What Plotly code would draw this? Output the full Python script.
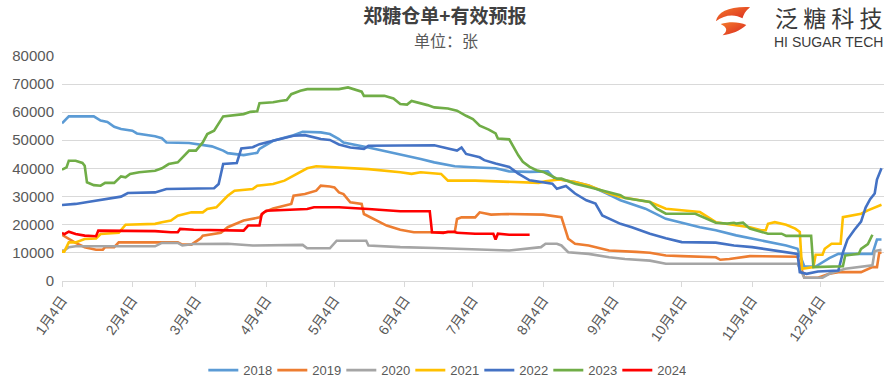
import base64
import pandas as pd
import plotly.graph_objects as go

# ---------------- data (day-of-year, value in 张) ----------------
days_2018 = [4,7,18,21,24,27,30,35,37,45,48,50,60,65,70,75,77,84,90,91,97,106,110,118,122,126,128,139,153,162,168,177,187,195,201,210,218,221,230,236,244,250,261,270,285,292,301,312,323,328,331,336,342,346,361,363,365]
vals_2018 = [56000,58500,58500,57000,56500,54800,54000,53400,52400,51400,50700,49200,49000,48300,47800,46300,45400,44700,45500,46900,49800,51800,53000,52800,52200,50400,49200,47400,45000,43300,42100,40700,40300,40000,38900,38700,38900,36300,35100,33900,31000,28600,25600,22000,19000,17900,16100,14300,12500,11300,5000,5000,8000,9500,9500,14600,14600]

days_2019 = [4,7,10,14,19,22,23,27,29,55,57,61,63,65,66,74,77,84,91,93,97,105,106,111,116,118,122,124,126,128,131,136,137,143,147,153,159,177,178,180,186,188,193,200,216,224,227,230,236,245,250,257,263,270,277,292,294,298,307,328,331,337,342,346,356,361,363,364,365]
vals_2019 = [16300,14800,13400,11900,11000,11000,11900,11900,13600,13600,12800,12800,13900,15000,16000,17000,19000,21400,22500,24300,25700,27300,30200,30800,32000,33800,33500,33200,31400,30800,27900,27300,23700,21400,19600,18100,17200,17200,21900,22500,22500,24300,23500,23700,23500,22600,14900,13100,12500,10700,10600,10200,9900,8900,8700,8300,7400,7700,8700,8500,1000,1000,2400,3000,3000,4800,4800,9900,9900]

days_2020 = [4,5,7,10,45,48,55,57,62,77,88,110,112,122,125,138,139,153,168,182,187,201,215,217,222,224,227,236,245,250,252,263,270,328,331,339,342,349,355,361,362,365]
vals_2020 = [10700,10700,11900,12200,12200,13400,13400,12500,13000,13100,12500,12700,11500,11500,14200,14200,12500,11900,11600,11300,11100,10700,11900,13100,13100,12500,10100,9500,8300,7700,7700,7100,6000,6000,1000,1000,2400,4200,4800,5400,10500,11000]

days_2021 = [4,5,7,10,14,19,21,29,32,45,48,52,55,58,61,66,68,72,74,77,80,88,90,97,102,106,109,112,116,126,139,153,158,162,171,174,186,214,217,223,230,236,245,250,254,263,270,285,292,297,304,307,312,314,315,318,323,327,329,330,335,336,339,340,343,347,348,352,356,359,365]
vals_2021 = [10300,10300,13600,13600,14800,15000,16600,17000,19900,20200,20800,21400,23100,23700,24300,24300,25500,26100,27900,30200,32000,32600,33800,34400,35600,37400,38600,40000,40700,40300,39700,38600,38000,38600,38000,35600,35600,34800,35400,36000,35100,33900,31000,29800,29200,28000,25600,24400,20800,20200,19600,19000,17900,17900,20200,20800,19900,18500,17300,4200,4800,9200,9200,11300,13100,13100,22600,23100,23800,25000,27000]

days_2022 = [4,10,16,23,30,33,45,50,65,71,73,75,81,83,88,91,97,106,111,115,118,122,126,131,137,139,153,168,175,178,180,182,188,190,195,201,205,210,220,222,226,230,235,239,242,250,255,263,270,277,292,300,308,323,328,329,332,337,346,348,350,353,356,358,360,362,363,365]
vals_2022 = [26900,27300,28100,29100,29900,31200,31400,32600,32900,32900,34400,41500,41900,47100,47500,48600,49800,51600,51800,51000,50400,50100,48500,47400,46900,48000,48000,48200,46900,46300,47400,45100,43900,42900,41700,40500,38100,35700,34500,32700,33700,31000,28600,27400,23200,20200,19000,16700,15100,13700,13500,12500,11900,9900,9500,3000,2400,3200,3600,10000,14600,18000,21000,26000,29000,31000,36000,40000]

days_2023 = [4,6,7,10,13,14,15,18,21,23,27,28,29,30,32,34,38,45,48,51,55,57,60,63,66,68,71,75,84,87,90,91,97,100,103,105,109,112,126,130,133,136,137,146,150,153,156,158,165,168,174,178,182,185,188,192,195,196,201,202,205,207,210,213,216,219,222,224,230,236,242,250,252,263,266,270,283,288,292,297,300,301,304,307,312,315,321,323,334,335,348,349,355,356,359,361]
vals_2023 = [39500,40300,42700,42700,41900,40900,35000,34000,33800,34800,34800,35600,36200,37100,36800,38000,38600,39100,40000,41500,42100,43900,46300,46300,49200,52200,53400,58500,59300,60100,60300,63200,63500,64000,64300,66400,67600,68200,68200,68800,68000,67300,65800,65800,64900,62900,62700,64000,62500,61700,61300,60500,58700,57500,55200,53800,52400,50600,50300,48800,44600,42300,40500,39300,38700,37500,36300,36300,34500,33300,32100,30400,29400,28000,25600,23800,23800,22000,20600,20300,20600,20300,20600,18500,17500,16700,16700,15900,15900,4800,5100,8900,9500,11300,13000,16300]

days_2024 = [4,5,7,10,14,19,20,45,52,55,56,62,84,86,91,92,94,106,112,115,126,139,153,166,167,172,174,177,178,186,194,195,196,201,210]
vals_2024 = [17000,16500,17400,16600,16000,15800,17800,17600,17200,17200,18400,18100,17800,19600,19600,23700,24900,25300,25500,26100,26100,25500,24700,24700,17200,17000,17400,17400,17000,16700,16700,14600,16700,16300,16300]

years = ["2018", "2019", "2020", "2021", "2022", "2023", "2024"]
series_days = [days_2018, days_2019, days_2020, days_2021, days_2022, days_2023, days_2024]
series_vals = [vals_2018, vals_2019, vals_2020, vals_2021, vals_2022, vals_2023, vals_2024]
colors = ["#5B9BD5", "#ED7D31", "#A5A5A5", "#FFC000", "#4472C4", "#70AD47", "#FF0000"]

tick_days = [4, 35, 63, 94, 124, 155, 185, 216, 247, 277, 308, 338]
tick_labels = ["1月4日", "2月4日", "3月4日", "4月4日", "5月4日", "6月4日",
               "7月4日", "8月4日", "9月4日", "10月4日", "11月4日", "12月4日"]

title_text = "郑糖仓单+有效预报"
unit_text = "单位：张"
logo_cn = "泛 糖 科 技"
logo_en = "HI SUGAR TECH"

BASE = pd.Timestamp("2023-01-01")


def to_dates(days):
    return BASE + pd.to_timedelta([d - 1 for d in days], unit="D")


fig = go.Figure()
for name, d, v, c in zip(years, series_days, series_vals, colors):
    fig.add_trace(go.Scatter(x=to_dates(d), y=v, name=name, mode="lines",
                             line=dict(color=c, width=2.6)))

font_main = "Liberation Sans, Noto Sans CJK SC, sans-serif"
PL, PW, PT, PH = 62, 822, 56, 226   # plot area in pixels


def px(xp):
    return (xp - PL) / PW


def py(yp):
    return (PT + PH - yp) / PH


fig.update_layout(
    width=895, height=382,
    margin=dict(l=PL, r=895 - PL - PW, t=PT, b=382 - PT - PH),
    paper_bgcolor="white", plot_bgcolor="white",
    font=dict(family=font_main, color="#595959"),
    showlegend=True,
    legend=dict(orientation="h", xref="container", yref="container",
                x=0.497, xanchor="center", y=0.031, yanchor="middle",
                entrywidth=24, entrywidthmode="pixels",
                font=dict(size=13, color="#595959"), traceorder="normal"),
    title=dict(text=title_text, xref="container", yref="container",
               x=0.497, xanchor="center", y=1 - 16 / 382, yanchor="middle",
               font=dict(family="Noto Sans CJK SC", size=19, color="#404040", weight="bold")),
)

fig.update_xaxes(
    type="date",
    range=[BASE + pd.Timedelta(days=3), BASE + pd.Timedelta(days=365.1)],
    tickvals=to_dates(tick_days), ticktext=tick_labels,
    tickangle=-55, ticks="outside", ticklen=5, tickcolor="#D9D9D9",
    showline=True, linecolor="#D9D9D9", linewidth=1,
    showgrid=False, zeroline=False,
    tickfont=dict(size=14, color="#595959", family=font_main),
)
fig.update_yaxes(
    range=[0, 80000], dtick=10000, tickformat="d",
    showgrid=True, gridcolor="#D9D9D9", gridwidth=1,
    zeroline=False, showline=False,
    ticks="outside", ticklen=4, tickcolor="rgba(0,0,0,0)",
    tickfont=dict(size=15, color="#595959", family=font_main),
)

# subtitle
fig.add_annotation(text=unit_text, xref="paper", yref="paper",
                   x=px(446), y=py(40),
                   showarrow=False, xanchor="center", yanchor="middle",
                   font=dict(family="Noto Sans CJK SC", size=16, color="#595959"))

# logo text
fig.add_annotation(text=logo_cn, xref="paper", yref="paper",
                   x=px(828), y=py(17),
                   showarrow=False, xanchor="center", yanchor="middle",
                   font=dict(family="Noto Sans CJK SC", size=23, color="#3A3A3A"))
fig.add_annotation(text=logo_en, xref="paper", yref="paper",
                   x=px(828), y=py(42),
                   showarrow=False, xanchor="center", yanchor="middle",
                   font=dict(family="Liberation Sans", size=14, color="#3A3A3A"))

svg = ("<svg xmlns='http://www.w3.org/2000/svg' viewBox='0 0 40 34'>"
       "<defs><linearGradient id='g' x1='0' y1='0' x2='1' y2='1'>"
       "<stop offset='0' stop-color='#F47B2C'/><stop offset='1' stop-color='#D9261F'/>"
       "</linearGradient></defs>"
       "<path d='M2,18 C4,8 16,2 38,3 C33,7 31,11 30,15 C22,10 11,11 2,18 Z' fill='url(#g)'/>"
       "<path d='M7,21 C17,18 27,19 34,22 C28,28 18,32 9,33 C14,29 15,25 7,21 Z' fill='url(#g)'/>"
       "</svg>")
src = "data:image/svg+xml;base64," + base64.b64encode(svg.encode()).decode()
fig.add_layout_image(dict(source=src, xref="paper", yref="paper",
                          x=px(714), y=py(4),
                          sizex=38 / PW, sizey=32 / PH,
                          xanchor="left", yanchor="top", sizing="stretch", layer="above"))

fig.write_html("out.html", config={"displayModeBar": False},
               post_script="document.body.style.margin='0';")
